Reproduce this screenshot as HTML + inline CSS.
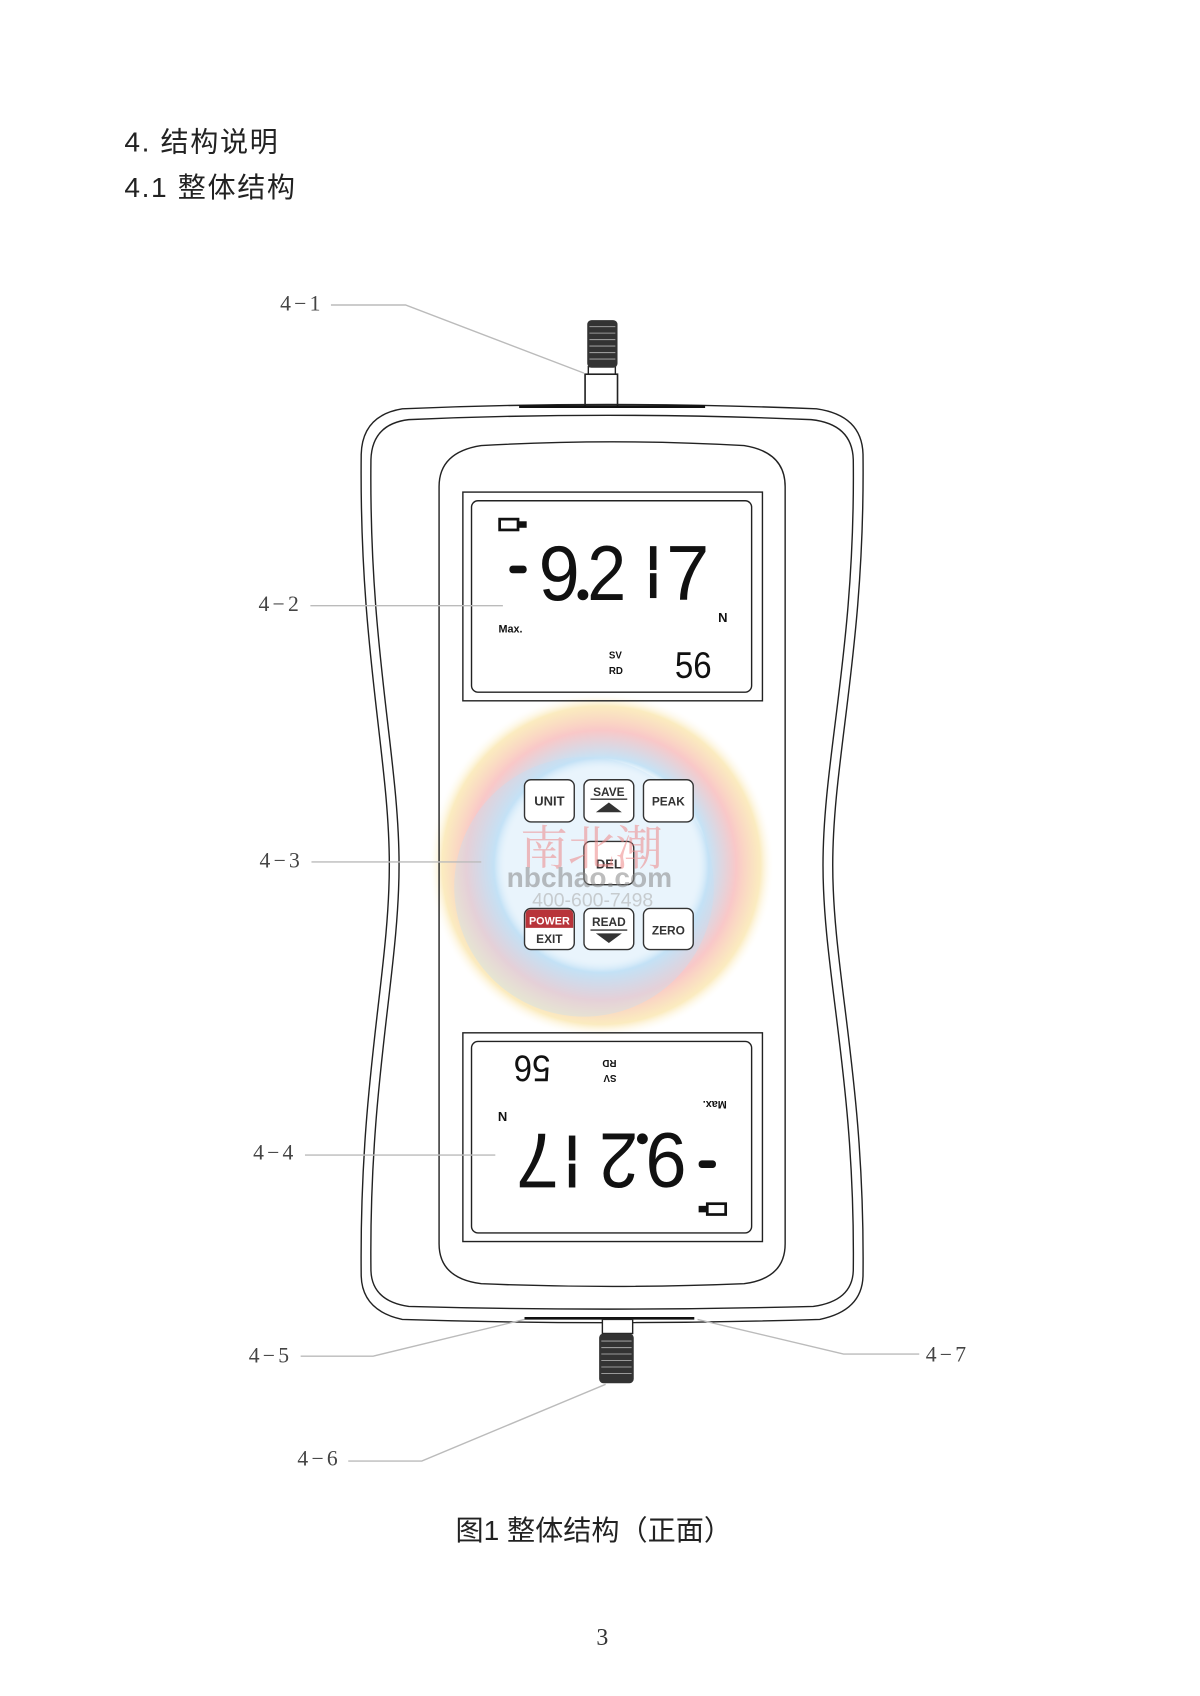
<!DOCTYPE html>
<html><head><meta charset="utf-8"><style>
html,body{margin:0;padding:0;background:#fff;}
svg{display:block;}
</style></head><body>
<svg width="1200" height="1696" viewBox="0 0 1109.6 1568.2" xmlns="http://www.w3.org/2000/svg">
<defs>
<radialGradient id="wm" cx="0.5" cy="0.5" r="0.5">
<stop offset="0.55" stop-color="#fff" stop-opacity="0"/>
<stop offset="0.62" stop-color="#9fd0f0" stop-opacity="0.6"/>
<stop offset="0.78" stop-color="#f5a3a3" stop-opacity="0.6"/>
<stop offset="0.92" stop-color="#f7d880" stop-opacity="0.5"/>
<stop offset="1" stop-color="#fff" stop-opacity="0"/>
</radialGradient>
</defs>
<text x="115" y="140" font-family="Liberation Sans, Noto Sans CJK SC, sans-serif" font-size="26" letter-spacing="1.5" fill="#222">4. 结构说明</text>
<text x="115" y="182" font-family="Liberation Sans, Noto Sans CJK SC, sans-serif" font-size="26" letter-spacing="1.5" fill="#222">4.1 整体结构</text>

<!-- watermark -->
<circle cx="556" cy="800" r="160" fill="url(#wm)"/>
<circle cx="540" cy="820" r="120" fill="#bfe0f5" opacity="0.35"/>

<!-- body -->
<g fill="none" stroke="#222" stroke-width="1.3">
<path d="M372,378 Q560,370 755,378 Q797,384 798,420 C800,600 770,700 770,800 C770,900 800,1000 798,1180 Q797,1212 758,1220 Q560,1226 372,1220 Q335,1212 334,1180 C332,1000 360,900 360,800 C360,700 332,600 334,420 Q335,384 372,378 Z"/>
<path d="M378,388 Q560,380 750,388 Q788,392 789,425 C791,600 761,700 761,800 C761,900 791,1000 789,1175 Q788,1203 752,1208 Q560,1213 378,1208 Q344,1203 343,1175 C341,1000 369,900 369,800 C369,700 341,600 343,425 Q344,392 378,388 Z"/>
<path d="M445,412 Q566,405 688,412 Q726,418 726,450 L726,1150 Q726,1182 688,1187 Q566,1192 445,1187 Q406,1182 406,1150 L406,450 Q406,418 445,412 Z"/>
<rect x="428" y="455" width="277" height="193"/>
<rect x="436" y="463" width="259" height="177" rx="6"/>
<rect x="428" y="955" width="277" height="193"/>
<rect x="436" y="963" width="259" height="177" rx="6"/>
<rect x="541" y="346" width="30" height="30" stroke-width="1.5"/>
<rect x="544" y="339" width="25" height="7"/>
</g>
<line x1="480" y1="376" x2="652" y2="376" stroke="#111" stroke-width="2.5"/>
<line x1="485" y1="1219" x2="642" y2="1219" stroke="#111" stroke-width="2.5"/>
<g>
<rect x="543" y="296" width="28" height="44" rx="4" fill="#333"/>
<g stroke="#999" stroke-width="1">
<line x1="545" y1="302" x2="569" y2="302"/><line x1="545" y1="308" x2="569" y2="308"/><line x1="545" y1="314" x2="569" y2="314"/><line x1="545" y1="320" x2="569" y2="320"/><line x1="545" y1="326" x2="569" y2="326"/><line x1="545" y1="332" x2="569" y2="332"/>
</g>
<rect x="557" y="1220" width="28" height="13" fill="#fff" stroke="#222" stroke-width="1.3"/>
<rect x="554" y="1233" width="32" height="46" rx="4" fill="#333"/>
<g stroke="#999" stroke-width="1">
<line x1="556" y1="1240" x2="584" y2="1240"/><line x1="556" y1="1246" x2="584" y2="1246"/><line x1="556" y1="1252" x2="584" y2="1252"/><line x1="556" y1="1258" x2="584" y2="1258"/><line x1="556" y1="1264" x2="584" y2="1264"/><line x1="556" y1="1270" x2="584" y2="1270"/>
</g>
</g>

<!-- LCD content -->
<g id="lcd" font-family="Liberation Sans, sans-serif" fill="#111">
<rect x="462" y="480" width="17" height="10" fill="none" stroke="#111" stroke-width="2.5"/>
<rect x="479" y="482" width="8" height="6" fill="#111"/>
<rect x="471" y="523" width="16" height="7" rx="3"/>
<text x="498" y="555" font-size="72" textLength="38" lengthAdjust="spacingAndGlyphs">9</text>
<circle cx="539" cy="550" r="5"/>
<text x="543" y="555" font-size="72" textLength="36" lengthAdjust="spacingAndGlyphs">2</text>
<rect x="601" y="505" width="6" height="22"/><rect x="601" y="530" width="6" height="23"/>
<text x="616" y="555" font-size="72" textLength="40" lengthAdjust="spacingAndGlyphs">7</text>
<text x="664" y="575" font-size="12" font-weight="bold">N</text>
<text x="461" y="585" font-size="10" font-weight="bold">Max.</text>
<text x="563" y="609" font-size="9" font-weight="bold">SV</text>
<text x="563" y="623" font-size="9" font-weight="bold">RD</text>
<text x="624" y="627" font-size="34" textLength="34" lengthAdjust="spacingAndGlyphs">56</text>
</g>
<g transform="translate(0,500) rotate(180 566.5 551.5)">
<use href="#lcd"/>
</g>

<!-- buttons -->
<g font-family="Liberation Sans, sans-serif" font-weight="bold" font-size="12" fill="#333" text-anchor="middle">
<g fill="#fff" stroke="#333" stroke-width="1.3">
<rect x="485" y="721" width="46" height="39" rx="6"/>
<rect x="540" y="721" width="46" height="39" rx="6"/>
<rect x="595" y="721" width="46" height="39" rx="6"/>
<rect x="540" y="778" width="46" height="40" rx="6"/>
<rect x="485" y="840" width="46" height="38" rx="6"/>
<rect x="540" y="840" width="46" height="38" rx="6"/>
<rect x="595" y="840" width="46" height="38" rx="6"/>
</g>
<path d="M486,846 Q486,841 491,841 L525,841 Q530,841 530,846 L530,858 L486,858 Z" fill="#b8343a"/>
<text x="508" y="745">UNIT</text>
<text x="563" y="736" font-size="11">SAVE</text>
<line x1="546" y1="739" x2="580" y2="739" stroke="#333" stroke-width="1.3"/>
<polygon points="551,751 575,751 563,742" fill="#333"/>
<text x="618" y="745" font-size="11">PEAK</text>
<text x="563" y="803">DEL</text>
<text x="508" y="855" font-size="10" fill="#fff">POWER</text>
<text x="508" y="872" font-size="11">EXIT</text>
<text x="563" y="856" font-size="11">READ</text>
<line x1="546" y1="860" x2="580" y2="860" stroke="#333" stroke-width="1.3"/>
<polygon points="551,863 575,863 563,872" fill="#333"/>
<text x="618" y="864" font-size="11">ZERO</text>
</g>
<g font-family="Liberation Sans, Noto Sans CJK SC, sans-serif" text-anchor="middle" opacity="0.55">
<text x="547" y="800" font-size="44" fill="#e88" font-family="Noto Serif CJK SC, serif">南北潮</text>
<text x="545" y="820" font-size="26" fill="#888" font-weight="bold">nbchao.com</text>
<text x="548" y="838" font-size="18" fill="#aaa">400-600-7498</text>
</g>

<!-- leaders -->
<g stroke="#bbb" stroke-width="1.3" fill="none">
<polyline points="306,282 375,282 540,345"/>
<line x1="287" y1="560" x2="465" y2="560"/>
<line x1="288" y1="797" x2="445" y2="797"/>
<line x1="282" y1="1068" x2="458" y2="1068"/>
<polyline points="278,1254 345,1254 485,1220"/>
<polyline points="322,1351 390,1351 560,1280"/>
<polyline points="850,1252 780,1252 645,1220"/>
</g>
<g font-family="Liberation Serif, serif" font-size="20" fill="#444" letter-spacing="3">
<text x="259" y="287">4−1</text>
<text x="239" y="565">4−2</text>
<text x="240" y="802">4−3</text>
<text x="234" y="1072">4−4</text>
<text x="230" y="1260">4−5</text>
<text x="275" y="1355">4−6</text>
<text x="856" y="1259">4−7</text>
</g>
<text x="549" y="1424" text-anchor="middle" font-family="Liberation Sans, Noto Sans CJK SC, sans-serif" font-size="26" fill="#222">图1 整体结构（正面）</text>
<text x="557" y="1521" text-anchor="middle" font-family="Liberation Serif, serif" font-size="22" fill="#333">3</text>
</svg>
</body></html>
